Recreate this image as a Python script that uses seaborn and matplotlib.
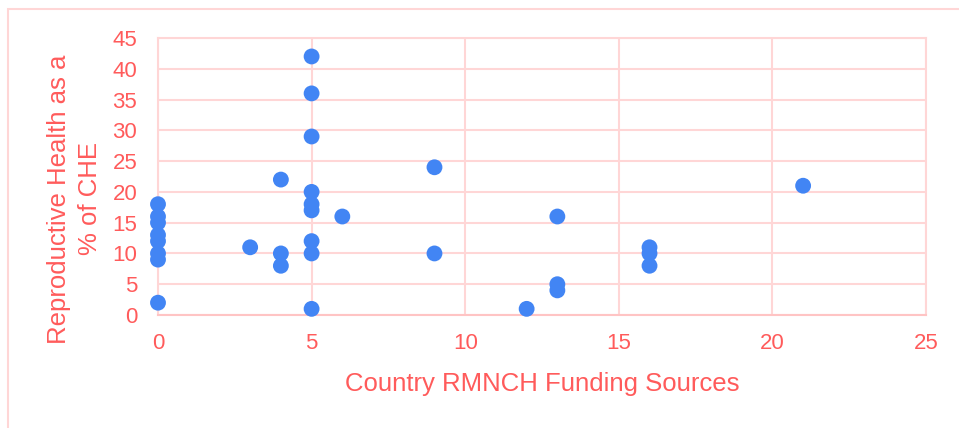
import numpy as np
import pandas as pd
import matplotlib
matplotlib.use("Agg")
import matplotlib.pyplot as plt
import seaborn as sns
from matplotlib.patches import Rectangle

# datos
funding_sources = [0, 0, 0, 0, 0, 0, 0, 0,
                   3,
                   4, 4, 4,
                   5, 5, 5, 5, 5, 5, 5, 5, 5,
                   6,
                   9, 9,
                   12,
                   13, 13, 13,
                   16, 16, 16,
                   21]
rh_pct_che = [18, 16, 15, 13, 12, 10, 9, 2,
              11,
              22, 10, 8,
              42, 36, 29, 20, 18, 17, 12, 10, 1,
              16,
              24, 10,
              1,
              16, 5, 4,
              11, 10, 8,
              21]
x_ticks = [0, 5, 10, 15, 20, 25]
y_ticks = [0, 5, 10, 15, 20, 25, 30, 35, 40, 45]

df = pd.DataFrame({"fuentes": funding_sources, "rh": rh_pct_che})

text_col = "#FF5B5B"
grid_col = "#FFD6D6"
dot_col = "#4285F4"

sns.set_style("white")
plt.rcParams["font.family"] = ["Liberation Sans", "DejaVu Sans"]

fig = plt.figure(figsize=(9.59, 4.28), dpi=100)
ax = fig.add_axes([158 / 959, 1 - 315 / 428, (926 - 158) / 959, (315 - 38) / 428])

# marco exterior del grafico
fig.patches.append(Rectangle((8 / 959, -0.1), 1.2, 1 - 9 / 428 + 0.1,
                             transform=fig.transFigure, fill=False,
                             edgecolor=grid_col, linewidth=1.5))

sns.scatterplot(data=df, x="fuentes", y="rh", ax=ax, s=130, color=dot_col,
                edgecolor="none", zorder=3, clip_on=False)

ax.set_xlim(0, 25)
ax.set_ylim(0, 45)
ax.set_xticks(x_ticks)
ax.set_yticks(y_ticks)
ax.grid(True, color=grid_col, linewidth=1.5)
ax.set_axisbelow(True)
for side in ["top", "right", "left"]:
    ax.spines[side].set_color(grid_col)
    ax.spines[side].set_linewidth(1.5)
ax.spines["bottom"].set_color("#FFC4C4")
ax.spines["bottom"].set_linewidth(1.5)
ax.tick_params(axis="both", length=0, labelsize=16, labelcolor=text_col)
ax.tick_params(axis="x", pad=13)
ax.tick_params(axis="y", pad=15)

ax.set_xlabel("Country RMNCH Funding Sources", fontsize=18.5, color=text_col, labelpad=13)
ax.set_ylabel("Reproductive Health as a\n% of CHE", fontsize=18.5, color=text_col,
              linespacing=1.35)
ax.yaxis.set_label_coords(-0.109, 0.419)
ax.yaxis.label.set_va("center")

fig.savefig("out.png", dpi=100)
